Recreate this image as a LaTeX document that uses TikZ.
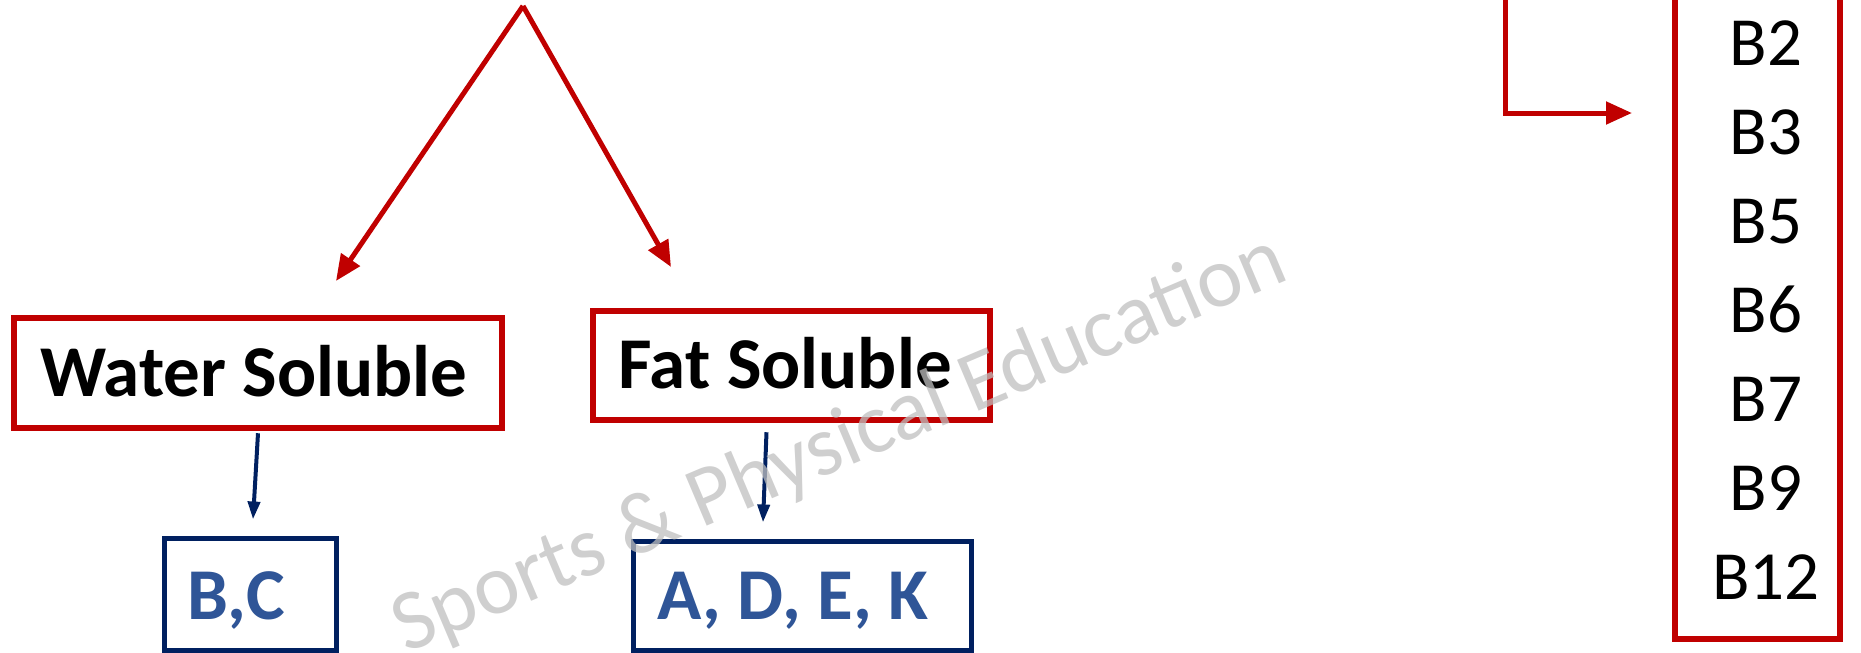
\documentclass[tikz,border=0pt]{standalone}
\usepackage{fontspec}
\setmainfont{Carlito}
\usetikzlibrary{arrows.meta}
\definecolor{vred}{HTML}{C00000}
\definecolor{vnavy}{HTML}{002060}
\definecolor{vblue}{HTML}{2F5597}
\tikzset{
  redbox/.style={draw=vred, line width=6.5pt, rectangle, inner sep=0pt, fill=white},
  navybox/.style={draw=vnavy, line width=5pt, rectangle, inner sep=0pt, fill=white},
  headtext/.style={font=\bfseries\fontsize{73}{80}\selectfont, text=black},
  vittext/.style={font=\bfseries\fontsize{73}{80}\selectfont, text=vblue},
  listtext/.style={font=\fontsize{69}{80}\selectfont, text=black, anchor=base},
  redarrow/.style={draw=vred, line width=5pt, -{Triangle[length=26pt, width=22pt]}},
  navyarrow/.style={draw=vnavy, line width=4pt, -{Triangle[length=18pt, width=12pt]}},
  watermark/.style={font=\fontsize{86}{90}\selectfont, text=gray!50, opacity=0.75}
}
\begin{document}
\begin{tikzpicture}[x=1pt, y=-1pt]
\useasboundingbox (0,0) rectangle (1861,653);
% top apex and L-arrow origin (beyond the crop)
\coordinate (apex) at (523,6);
\coordinate (lstart) at (1505,-20);
\coordinate (lcorner) at (1505,113);
\coordinate (lend) at (1632,113);
% boxes
\node[redbox, minimum width=488pt, minimum height=110pt] (ws) at (258,373) {};
\node[headtext, anchor=base] (wst) at (254,396) {Water Soluble};
\node[redbox, minimum width=397pt, minimum height=109pt] (fs) at (791.5,365.5) {};
\node[headtext, anchor=base] (fst) at (785,388) {Fat Soluble};
\node[navybox, minimum width=172pt, minimum height=112pt] (bc) at (250,594) {};
\node[vittext, anchor=base] (bct) at (236,619) {B,C};
\node[navybox, minimum width=338pt, minimum height=109pt] (adek) at (802,595.5) {};
\node[vittext, anchor=base] (adekt) at (793,619) {A, D, E, K};
\node[redbox, minimum width=165pt, minimum height=760pt] (bl) at (1757.5,259) {};
\foreach \t [count=\i from 0] in {B2,B3,B5,B6,B7,B9,B12}
  \node[listtext] (b\i) at (1766,65+89*\i) {\t};
% red arrows
\coordinate (wsin) at (336,281);
\coordinate (fsin) at (671,267);
\draw[redarrow] (apex) -- (wsin);
\draw[redarrow] (apex) -- (fsin);
\draw[redarrow] (lstart) -- (lcorner) -- (lend);
% navy arrows
\draw[navyarrow] ([yshift=-2pt]ws.south) -- ([xshift=3pt,yshift=16pt]bc.north);
\draw[navyarrow] ([xshift=-25pt,yshift=-9pt]fs.south) -- ([xshift=-39pt,yshift=16pt]adek.north);
% watermark
\node[watermark, rotate=23] (wm) at (840,445) {Sports \& Physical Education};
\end{tikzpicture}
\end{document}
